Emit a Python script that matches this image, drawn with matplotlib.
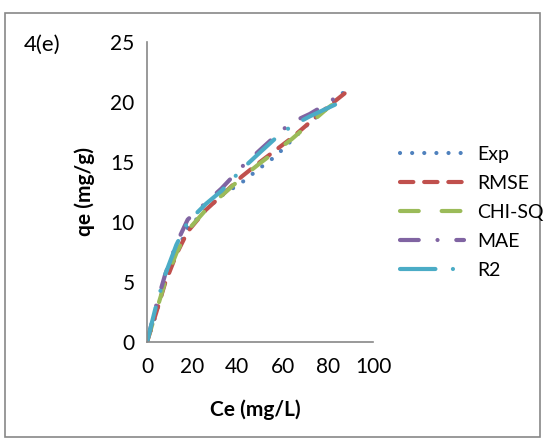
import matplotlib
matplotlib.use("Agg")
import matplotlib.pyplot as plt
from matplotlib.patches import Rectangle

plt.rcParams['font.family'] = ['Lato', 'DejaVu Sans']

# equilibrium concentration (mg/L)
ce = [0, 4, 8, 13, 18, 26, 33, 42, 50, 57, 64, 72, 80, 88]

# adsorbed amount (mg/g)
exp_q = [0, 2.3, 5.0, 7.5, 9.5, 11.0, 12.2, 13.3, 14.5, 15.5, 16.8, 18.3, 19.5, 21.0]
rmse_q = [0, 2.4, 4.9, 7.3, 9.2, 11.0, 12.2, 13.8, 15.0, 16.0, 17.0, 18.3, 19.6, 20.8]
chisq_q = [0, 2.5, 5.0, 7.4, 9.3, 11.0, 12.2, 13.7, 14.9, 15.9, 16.9, 18.2, 19.5, 20.6]
mae_q = [0, 3.0, 5.6, 8.2, 10.2, 11.6, 12.8, 14.6, 16.0, 17.2, 18.3, 19.0, 19.9, 21.0]
r2_q = [0, 3.0, 5.6, 8.1, 10.0, 11.5, 12.6, 14.4, 15.8, 17.0, 18.0, 18.8, 19.5, 20.2]

series = [
    ("Exp", exp_q, "#4F81BD", (0, (0.01, 2.9))),
    ("RMSE", rmse_q, "#C0504D", (0, (3.2, 2.6))),
    ("CHI-SQ", chisq_q, "#9BBB59", (0, (4.5, 5.5))),
    ("MAE", mae_q, "#8064A2", (0, (4.5, 4.5, 0.01, 4.5))),
    ("R2", r2_q, "#4BACC6", (0, (8.5, 4.2, 0.01, 4.2))),
]

W, H = 546, 443
fig = plt.figure(figsize=(W / 100, H / 100), dpi=100)
ax = fig.add_axes([147 / W, 1 - 342 / H, (373 - 147) / W, (342 - 42) / H])

for name, q, col, ls in series:
    ax.plot(ce, q, color=col, linestyle=ls, linewidth=3.0,
            dash_capstyle='round', solid_capstyle='round', label=name)

ax.set_xlim(0, 100)
ax.set_ylim(0, 25)
ax.set_xticks([0, 20, 40, 60, 80, 100])
ax.set_yticks([0, 5, 10, 15, 20, 25])

for s in ["top", "right"]:
    ax.spines[s].set_visible(False)
for s in ["left", "bottom"]:
    ax.spines[s].set_color("#888888")
    ax.spines[s].set_linewidth(1.2)

ax.tick_params(axis="x", length=0, pad=11, labelsize=15)
ax.tick_params(axis="y", length=0, pad=9, labelsize=15)

fig.text(255 / W, 1 - 410 / H, "Ce (mg/L)", ha="center", va="center",
         fontsize=15, fontweight="bold")
fig.text(85 / W, 1 - 192 / H, "qe (mg/g)", ha="center", va="center",
         rotation=90, fontsize=15, fontweight="bold")
fig.text(24 / W, 1 - 45 / H, "4(e)", ha="left", va="center", fontsize=16)

fig.legend(loc="upper left", bbox_to_anchor=(392 / W, 1 - 138 / H),
           frameon=False, fontsize=14, handlelength=3.3, handletextpad=0.7,
           labelspacing=0.62, borderaxespad=0)

fig.patches.append(Rectangle((5 / W, 1 - 437 / H), 535 / W, 424 / H,
                             transform=fig.transFigure, fill=False,
                             edgecolor="#878787", linewidth=1.2))

fig.savefig("out.png", dpi=100)
